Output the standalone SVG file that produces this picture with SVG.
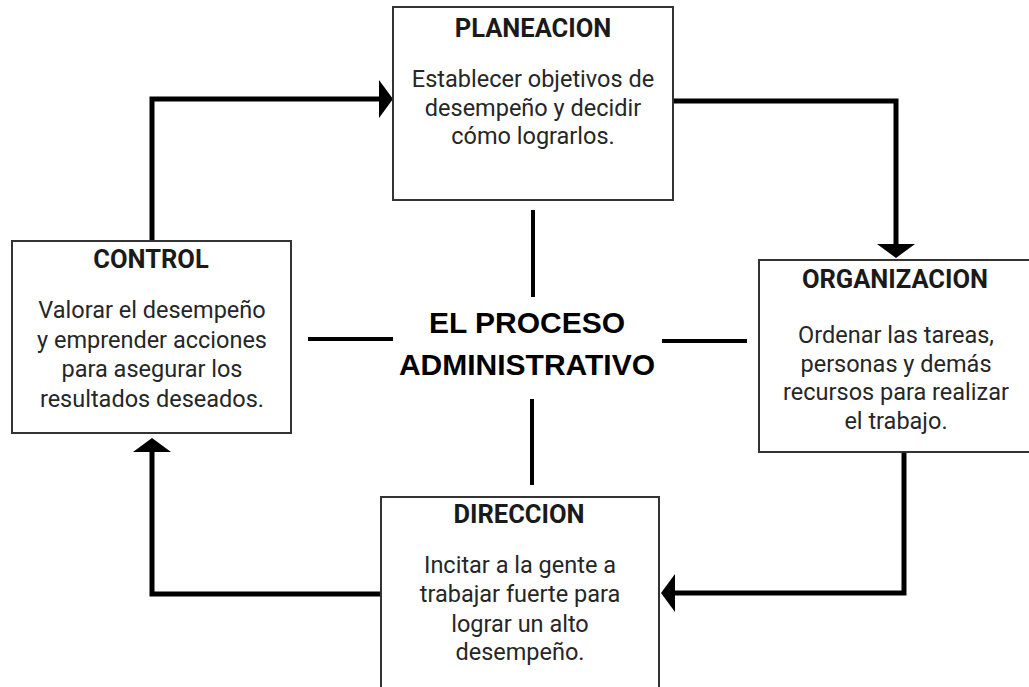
<svg xmlns="http://www.w3.org/2000/svg" width="1029" height="687" viewBox="0 0 1029 687">
  <style>
    .box { fill: #ffffff; stroke: #333333; stroke-width: 2; }
    .title { font-family: Roboto, "Liberation Sans", sans-serif; font-weight: bold; font-size: 25.5px; fill: #1a1a1a; text-anchor: middle; }
    .body { font-family: Roboto, "Liberation Sans", sans-serif; font-size: 23.5px; fill: #262626; text-anchor: middle; }
    .center { font-family: "Liberation Sans", Arial, sans-serif; font-weight: bold; font-size: 30px; fill: #000000; text-anchor: middle; }
    .flow { fill: none; stroke: #000000; stroke-width: 5; stroke-linejoin: miter; stroke-linecap: butt; marker-end: url(#head); }
    .spoke { stroke: #000000; stroke-width: 4; }
  </style>
  <defs>
    <marker id="head" markerUnits="userSpaceOnUse" markerWidth="16" markerHeight="40" refX="0" refY="19" orient="auto" overflow="visible">
      <path d="M0,0 L14,19 L0,38 Z" fill="#000000"/>
    </marker>
  </defs>
  <rect width="1029" height="687" fill="#ffffff"/>

  <!-- cycle arrows between the four stages -->
  <g id="connectors">
    <path class="flow" d="M152,241 V99 H379"/>
    <path class="flow" d="M673,101 H896 V244"/>
    <path class="flow" d="M904,452 V593 H675"/>
    <path class="flow" d="M381,594 H152 V452"/>
    <!-- spokes around the central title -->
    <line class="spoke" x1="533" y1="210" x2="533" y2="297"/>
    <line class="spoke" x1="308" y1="339" x2="393" y2="339"/>
    <line class="spoke" x1="662" y1="341" x2="747" y2="341"/>
    <line class="spoke" x1="532" y1="399" x2="532" y2="485"/>
  </g>

  <g id="planeacion">
    <rect class="box" x="393" y="7" width="280" height="193"/>
    <text class="title" x="533" y="37">PLANEACION</text>
    <text class="body" x="533" y="87">Establecer objetivos de</text>
    <text class="body" x="533" y="115.5">desempeño y decidir</text>
    <text class="body" x="533" y="144">cómo lograrlos.</text>
  </g>

  <g id="control">
    <rect class="box" x="12" y="241" width="279" height="192"/>
    <text class="title" x="151" y="268">CONTROL</text>
    <text class="body" x="152" y="318">Valorar el desempeño</text>
    <text class="body" x="152" y="347.5">y emprender acciones</text>
    <text class="body" x="152" y="377">para asegurar los</text>
    <text class="body" x="152" y="406.5">resultados deseados.</text>
  </g>

  <g id="organizacion">
    <rect class="box" x="759" y="260" width="273" height="192"/>
    <text class="title" x="895" y="288">ORGANIZACION</text>
    <text class="body" x="896" y="343">Ordenar las tareas,</text>
    <text class="body" x="896" y="371.5">personas y demás</text>
    <text class="body" x="896" y="400">recursos para realizar</text>
    <text class="body" x="896" y="428.5">el trabajo.</text>
  </g>

  <g id="direccion">
    <rect class="box" x="381" y="497" width="278" height="200"/>
    <text class="title" x="519" y="523">DIRECCION</text>
    <text class="body" x="520" y="573">Incitar a la gente a</text>
    <text class="body" x="520" y="602">trabajar fuerte para</text>
    <text class="body" x="520" y="631.5">lograr un alto</text>
    <text class="body" x="520" y="660">desempeño.</text>
  </g>

  <g id="proceso">
    <text class="center" x="527" y="333">EL PROCESO</text>
    <text class="center" x="527" y="375">ADMINISTRATIVO</text>
  </g>
</svg>
